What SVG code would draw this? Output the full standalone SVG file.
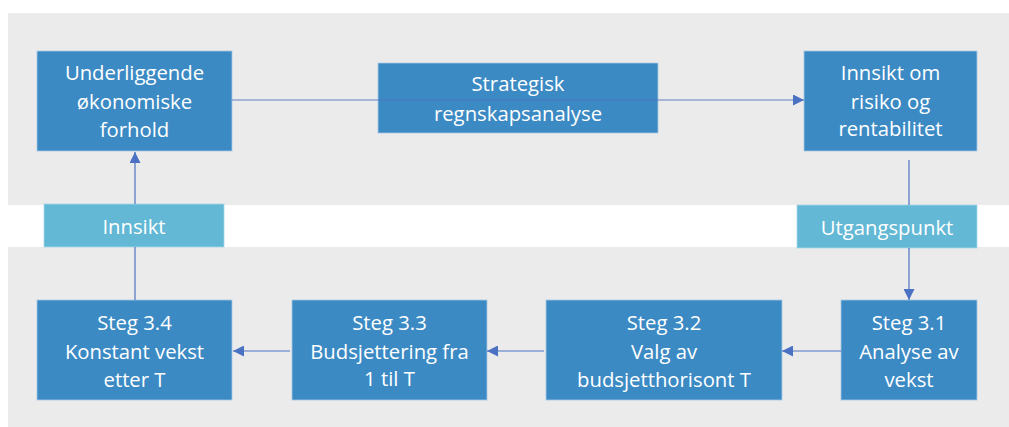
<svg xmlns="http://www.w3.org/2000/svg" width="1009" height="427" viewBox="0 0 1009 427">
<defs>
<style>
.band{fill:#ebebeb}
.box{fill:#3c8ac4;stroke:#a9c8e4;stroke-width:0.8}
.lbox{fill:#62b8d5;stroke:#a9d8e8;stroke-width:0.8}
.t{fill:#ffffff;font-family:"Open Sans","Noto Sans",sans-serif;font-size:20.3px;text-anchor:middle;dominant-baseline:central}
.c{fill:none;stroke:#4b72c2;stroke-width:1.2}
</style>
<marker id="ah" viewBox="0 0 10 10" refX="10" refY="5" markerWidth="11" markerHeight="11" markerUnits="userSpaceOnUse" orient="auto">
<path d="M0,0 L10,5 L0,10 z" fill="#4b72c2"/>
</marker>
</defs>
<rect class="band" x="8" y="13" width="1001" height="192"/>
<rect class="band" x="8" y="247" width="1001" height="180"/>

<g id="n1"><rect class="box" x="37" y="51" width="195" height="100"/>
<text class="t" x="134.5" y="72">Underliggende</text><text class="t" x="134.5" y="101">økonomiske</text><text class="t" x="134.5" y="129">forhold</text></g>
<g id="n2"><rect class="box" x="378" y="63" width="280" height="70"/>
<text class="t" x="518" y="83">Strategisk</text><text class="t" x="518" y="113">regnskapsanalyse</text></g>
<g id="n3"><rect class="box" x="804" y="51" width="173" height="100"/>
<text class="t" x="890.5" y="72">Innsikt om</text><text class="t" x="890.5" y="101">risiko og</text><text class="t" x="890.5" y="128">rentabilitet</text></g>
<g id="innsikt"><rect class="lbox" x="44" y="204" width="180" height="43"/>
<text class="t" x="134" y="226">Innsikt</text></g>
<g id="utgangspunkt"><rect class="lbox" x="797" y="205" width="180" height="43"/>
<text class="t" x="887" y="227">Utgangspunkt</text></g>
<g id="s34"><rect class="box" x="37" y="300" width="195" height="100"/>
<text class="t" x="134.5" y="322">Steg 3.4</text><text class="t" x="134.5" y="351">Konstant vekst</text><text class="t" x="134.5" y="379">etter T</text></g>
<g id="s33"><rect class="box" x="292" y="300" width="195" height="100"/>
<text class="t" x="389.5" y="322">Steg 3.3</text><text class="t" x="389.5" y="351">Budsjettering fra</text><text class="t" x="389.5" y="378">1 til T</text></g>
<g id="s32"><rect class="box" x="546" y="300" width="236" height="100"/>
<text class="t" x="664" y="322">Steg 3.2</text><text class="t" x="664" y="351">Valg av</text><text class="t" x="664" y="379">budsjetthorisont T</text></g>
<g id="s31"><rect class="box" x="841" y="300" width="136" height="100"/>
<text class="t" x="909" y="322">Steg 3.1</text><text class="t" x="909" y="351">Analyse av</text><text class="t" x="909" y="379">vekst</text></g>

<g id="connectors">
<line class="c" x1="232" y1="100" x2="804" y2="100" marker-end="url(#ah)" stroke-opacity="0.85"/>
<line class="c" x1="135" y1="204" x2="135" y2="152" marker-end="url(#ah)"/>
<line class="c" x1="135" y1="300" x2="135" y2="247"/>
<line class="c" x1="909" y1="160" x2="909" y2="205"/>
<line class="c" x1="909" y1="248" x2="909" y2="300" marker-end="url(#ah)"/>
<line class="c" x1="841" y1="351" x2="782" y2="351" marker-end="url(#ah)"/>
<line class="c" x1="544" y1="351" x2="487" y2="351" marker-end="url(#ah)"/>
<line class="c" x1="290" y1="351" x2="233" y2="351" marker-end="url(#ah)"/>
</g>
</svg>
